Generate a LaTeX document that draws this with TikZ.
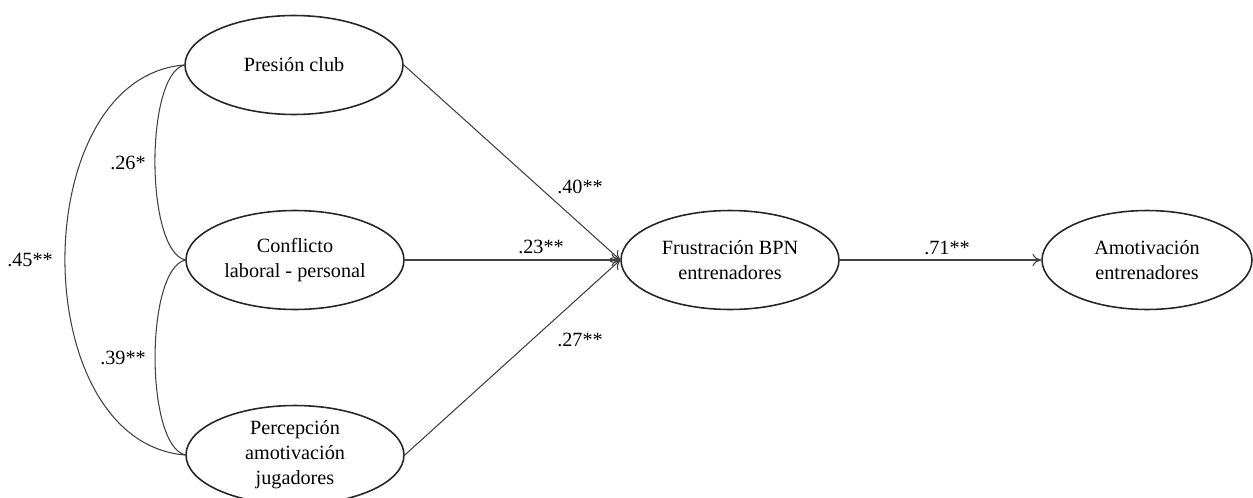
\documentclass[tikz,border=0pt]{standalone}
\usepackage{fontspec}
\setmainfont{Liberation Serif}
\usetikzlibrary{shapes.geometric,arrows.meta}
\begin{document}
\begin{tikzpicture}[x=0.02cm,y=-0.02cm,
  lat/.style={ellipse,draw=black!85,line width=0.9pt,minimum width=4.36cm,minimum height=1.98cm,align=center,inner sep=0pt,font=\fontsize{11.5}{14.2}\selectfont},
  path/.style={draw=black!75,line width=0.6pt,-{To[length=5pt,width=7pt]}},
  cov/.style={draw=black!75,line width=0.6pt},
  lbl/.style={font=\fontsize{11.5}{14}\selectfont,inner sep=1pt}]
\useasboundingbox (0,0) rectangle (1253,497);
\node[lat] (pc) at (294,65) {Presión club};
\node[lat] (cl) at (295,260) {Conflicto\\laboral - personal};
\node[lat] (pa) at (295,455) {Percepción\\amotivación\\jugadores};
\node[lat] (fb) at (730,260) {Frustración BPN\\entrenadores};
\node[lat,minimum width=4.2cm] (am) at (1147,260) {Amotivación\\entrenadores};
\draw[path] (pc.east) -- (fb.west);
\draw[path] (cl.east) -- (fb.west);
\draw[path] (pa.east) -- (fb.west);
\draw[path] (fb.east) -- (am.west);
\draw[cov] (pc.west) .. controls (145,75) and (145,250) .. (cl.west);
\draw[cov] (cl.west) .. controls (145,270) and (145,445) .. (pa.west);
\draw[cov] (pc.west) .. controls (25,78) and (25,442) .. (pa.west);
\node[lbl] (l40) at (580,187) {.40**};
\node[lbl] (l23) at (541,247) {.23**};
\node[lbl] (l27) at (580,340) {.27**};
\node[lbl] (l71) at (947,248) {.71**};
\node[lbl] (l26) at (128,163) {.26*};
\node[lbl] (l39) at (123,358) {.39**};
\node[lbl] (l45) at (30,260) {.45**};
\end{tikzpicture}
\end{document}
